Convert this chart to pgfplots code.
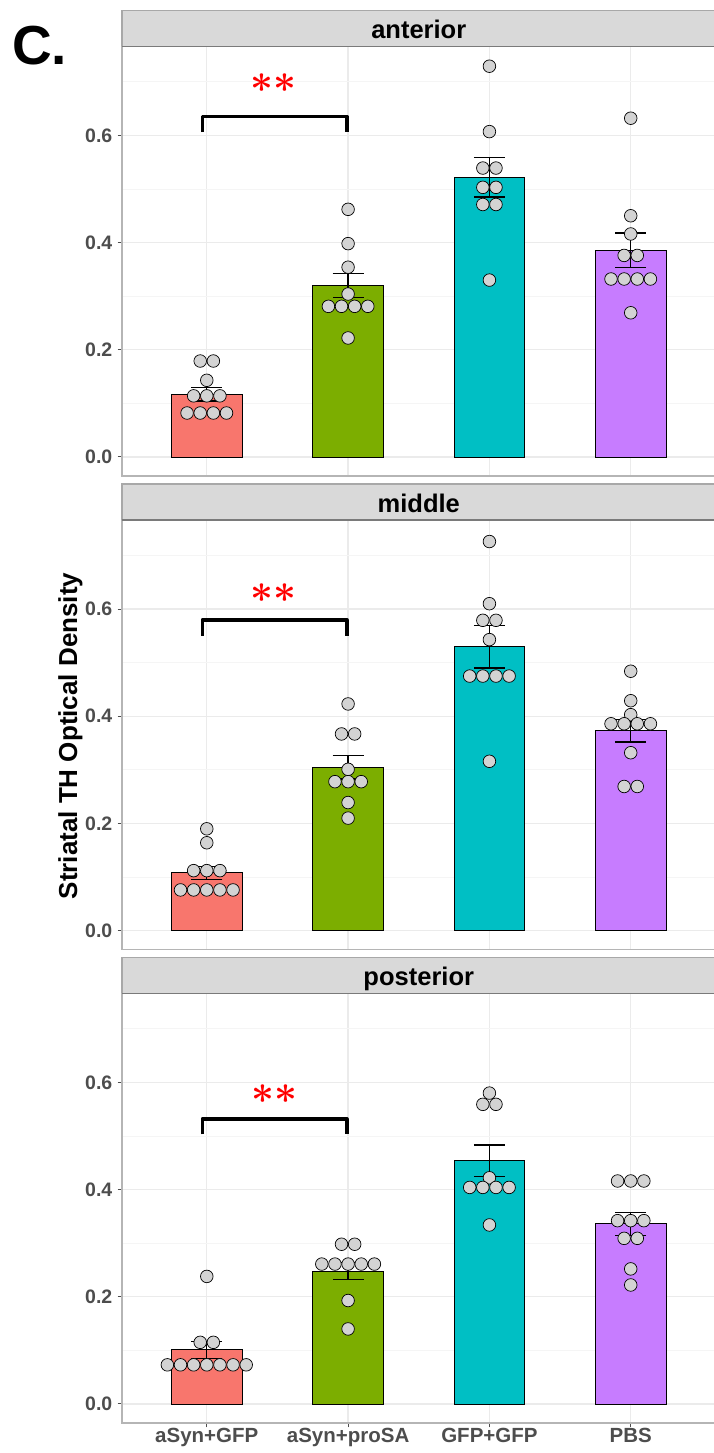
\documentclass[border=0pt]{standalone}
\usepackage{pgfplots}
\pgfplotsset{compat=1.18}
\usepackage{graphicx}
\usepackage{fontspec}
\setmainfont{Liberation Sans}
\usetikzlibrary{calc}
\definecolor{cA}{HTML}{F8766D}
\definecolor{cB}{HTML}{7CAE00}
\definecolor{cC}{HTML}{00BFC4}
\definecolor{cD}{HTML}{C77CFF}
\definecolor{dotfill}{HTML}{D3D3D3}
\definecolor{gridc}{HTML}{EBEBEB}
\definecolor{minorgrid}{HTML}{F5F5F5}
\definecolor{borderc}{HTML}{B5B5B5}
\definecolor{stripfill}{HTML}{D9D9D9}
\definecolor{stripedge}{HTML}{A8A8A8}
\definecolor{stripbot}{HTML}{7A7A7A}
\definecolor{tickc}{HTML}{4D4D4D}
\pgfplotsset{
  facet/.style={
    scale only axis, width=593.5pt, height=429.6pt,
    xmin=0.4, xmax=4.6, ymin=-0.0355, ymax=0.766,
    xtick={1,2,3,4}, ytick={0,0.2,0.4,0.6}, yticklabels={0.0,0.2,0.4,0.6},
    minor ytick={0.1,0.3,0.5,0.7},
    xmajorgrids, ymajorgrids, yminorgrids,
    major grid style={color=gridc, line width=1.2pt},
    minor grid style={color=minorgrid, line width=0.8pt},
    axis line style={color=borderc, line width=1.3pt},
    tick align=outside, ytick pos=left, xtick pos=bottom,
    major tick length=4.5pt, minor tick length=0pt,
    tick style={color=tickc, line width=1pt},
    yticklabel style={font=\fontsize{19.5}{22}\selectfont\bfseries, text=tickc, inner sep=0pt, xshift=-5pt},
    xticklabel style={font=\fontsize{20.5}{24}\selectfont\bfseries, text=tickc, inner sep=0pt},
  },
  bars/.style={ybar, bar width=70.6pt, bar shift=0pt, draw=black, line width=0.9pt},
  errs/.style={draw=none, mark=none, forget plot, error bars/.cd, y dir=both, y explicit,
    error bar style={draw=black, line width=1.2pt},
    error mark=-,
    error mark options={draw=black, rotate=90, mark size=15.5pt, line width=1.2pt}},
  dots/.style={only marks, mark=*, mark size=6.3pt, mark options={fill=dotfill, draw=black, line width=0.7pt}},
  brk/.style={black, line width=3.8pt, line join=round, mark=none},
}
\newcommand{\stars}{\textcolor{red}{\scalebox{1.6}{\fontsize{24.88}{28}\selectfont\boldmath$\ast\ast$}}}
\newcommand{\strip}[2]{%
  \fill[stripfill] (#1.north west) rectangle ([yshift=36pt]#1.north east);
  \draw[stripedge, line width=1.3pt] (#1.north west) -- ([yshift=36pt]#1.north west) -- ([yshift=36pt]#1.north east);
  \draw[stripbot, line width=1.3pt] (#1.north west) -- (#1.north east);
  \node[anchor=base, inner sep=0pt, font=\fontsize{25.5}{30}\selectfont\bfseries] at ($(#1.north west)!0.5!(#1.north east)+(0,7.5pt)$) {#2};
}
\begin{document}
\begin{tikzpicture}
\useasboundingbox (0pt,0pt) rectangle (713pt,1453pt);
% ---------------- anterior ----------------
\begin{axis}[facet, name=p1, at={(122pt,977pt)}, anchor=south west, xticklabels={}, xtick style={draw=none}]
\addplot[bars, fill=cA] coordinates {(1,0.117)};
\addplot[bars, fill=cB] coordinates {(2,0.320)};
\addplot[bars, fill=cC] coordinates {(3,0.522)};
\addplot[bars, fill=cD] coordinates {(4,0.386)};
\addplot[errs] coordinates {(1,0.117) +- (0,0.0125) (2,0.320) +- (0,0.023) (3,0.522) +- (0,0.037) (4,0.386) +- (0,0.032)};
\addplot[dots] coordinates {(0.9535,0.179)(1.0465,0.179)(1,0.143)(0.907,0.114)(1,0.114)(1.093,0.114)(0.8605,0.082)(0.9535,0.082)(1.0465,0.082)(1.1395,0.082)};
\addplot[dots] coordinates {(2,0.462)(2,0.398)(2,0.354)(2,0.304)(1.8605,0.281)(1.9535,0.281)(2.0465,0.281)(2.1395,0.281)(2,0.222)};
\addplot[dots] coordinates {(3,0.729)(3,0.607)(2.9535,0.539)(3.0465,0.539)(2.9535,0.503)(3.0465,0.503)(2.9535,0.471)(3.0465,0.471)(3,0.330)};
\addplot[dots] coordinates {(4,0.632)(4,0.450)(4,0.416)(3.9535,0.376)(4.0465,0.376)(3.8605,0.332)(3.9535,0.332)(4.0465,0.332)(4.1395,0.332)(4,0.269)};
\addplot[brk] coordinates {(0.97,0.606)(0.97,0.635)(1.99,0.635)(1.99,0.606)};
\node[inner sep=0pt] at (axis cs:1.47,0.697) {\stars};
\end{axis}
\strip{p1}{anterior}
% ---------------- middle ----------------
\begin{axis}[facet, name=p2, at={(122pt,503.3pt)}, anchor=south west, xticklabels={}, xtick style={draw=none}]
\addplot[bars, fill=cA] coordinates {(1,0.108)};
\addplot[bars, fill=cB] coordinates {(2,0.305)};
\addplot[bars, fill=cC] coordinates {(3,0.530)};
\addplot[bars, fill=cD] coordinates {(4,0.373)};
\addplot[errs] coordinates {(1,0.108) +- (0,0.012) (2,0.305) +- (0,0.022) (3,0.530) +- (0,0.040) (4,0.373) +- (0,0.021)};
\addplot[dots] coordinates {(1,0.190)(1,0.164)(0.907,0.112)(1,0.112)(1.093,0.112)(0.814,0.076)(0.907,0.076)(1,0.076)(1.093,0.076)(1.186,0.076)};
\addplot[dots] coordinates {(2,0.423)(1.9535,0.367)(2.0465,0.367)(2,0.301)(1.907,0.278)(2,0.278)(2.093,0.278)(2,0.239)(2,0.210)};
\addplot[dots] coordinates {(3,0.726)(3,0.610)(2.9535,0.579)(3.0465,0.579)(3,0.543)(2.8605,0.475)(2.9535,0.475)(3.0465,0.475)(3.1395,0.475)(3,0.316)};
\addplot[dots] coordinates {(4,0.484)(4,0.429)(4,0.403)(3.8605,0.386)(3.9535,0.386)(4.0465,0.386)(4.1395,0.386)(4,0.332)(3.9535,0.269)(4.0465,0.269)};
\addplot[brk] coordinates {(0.97,0.550)(0.97,0.580)(1.99,0.580)(1.99,0.550)};
\node[inner sep=0pt] at (axis cs:1.47,0.630) {\stars};
\end{axis}
\strip{p2}{middle}
% ---------------- posterior ----------------
\begin{axis}[facet, name=p3, at={(122pt,30pt)}, anchor=south west, xticklabels={aSyn+GFP,aSyn+proSA,GFP+GFP,PBS}]
\addplot[bars, fill=cA] coordinates {(1,0.101)};
\addplot[bars, fill=cB] coordinates {(2,0.248)};
\addplot[bars, fill=cC] coordinates {(3,0.454)};
\addplot[bars, fill=cD] coordinates {(4,0.336)};
\addplot[errs] coordinates {(1,0.101) +- (0,0.016) (2,0.248) +- (0,0.016) (3,0.454) +- (0,0.029) (4,0.336) +- (0,0.021)};
\addplot[dots] coordinates {(1,0.238)(0.9535,0.115)(1.0465,0.115)(0.721,0.073)(0.814,0.073)(0.907,0.073)(1,0.073)(1.093,0.073)(1.186,0.073)(1.279,0.073)};
\addplot[dots] coordinates {(1.9535,0.298)(2.0465,0.298)(1.814,0.261)(1.907,0.261)(2,0.261)(2.093,0.261)(2.186,0.261)(2,0.193)(2,0.140)};
\addplot[dots] coordinates {(3,0.580)(2.9535,0.559)(3.0465,0.559)(3,0.422)(2.8605,0.404)(2.9535,0.404)(3.0465,0.404)(3.1395,0.404)(3,0.334)};
\addplot[dots] coordinates {(3.907,0.416)(4,0.416)(4.093,0.416)(3.907,0.342)(4,0.342)(4.093,0.342)(3.9535,0.309)(4.0465,0.309)(4,0.252)(4,0.222)};
\addplot[brk] coordinates {(0.97,0.503)(0.97,0.532)(1.99,0.532)(1.99,0.503)};
\node[inner sep=0pt] at (axis cs:1.48,0.579) {\stars};
\end{axis}
\strip{p3}{posterior}
% labels
\node[rotate=90, inner sep=0pt, font=\fontsize{26}{30}\selectfont\bfseries] at (70.5pt,717pt) {Striatal TH Optical Density};
\node[anchor=base west, inner sep=0pt, font=\fontsize{55}{60}\selectfont\bfseries] at (12pt,1388pt) {C.};
\end{tikzpicture}
\end{document}
